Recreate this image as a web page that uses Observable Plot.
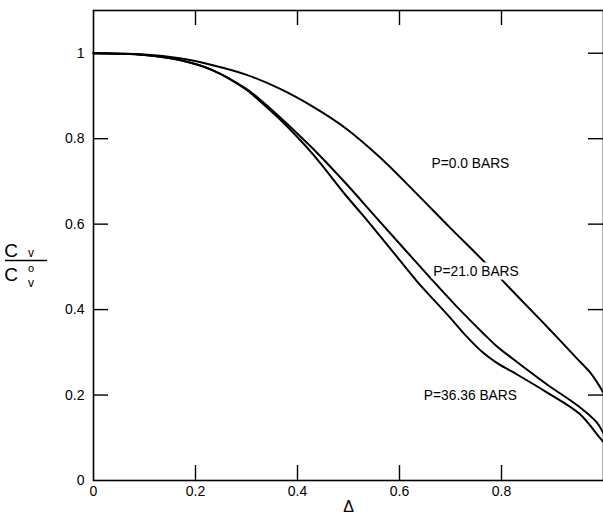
<!DOCTYPE html>
<html>
<head>
<meta charset="utf-8">
<script src="https://cdn.jsdelivr.net/npm/d3@7"></script>
<script src="https://cdn.jsdelivr.net/npm/@observablehq/plot@0.6"></script>
<style>
  html, body { margin: 0; padding: 0; background: #fff; }
  #chart { width: 603px; height: 516px; }
</style>
</head>
<body>
<div id="chart"></div>
<script>
// Δ values and Cv/Cv° values
const p0X  = [0, 0.1, 0.169, 0.234, 0.299, 0.365, 0.43, 0.495, 0.561, 0.633, 0.698, 0.767, 0.839, 0.894, 0.95, 0.973, 0.99, 1.0];
const p0Y  = [1.0, 0.997, 0.988, 0.972, 0.950, 0.917, 0.875, 0.824, 0.757, 0.672, 0.593, 0.511, 0.422, 0.354, 0.283, 0.254, 0.225, 0.205];

const p21X = [0, 0.1, 0.169, 0.234, 0.299, 0.332, 0.365, 0.43, 0.495, 0.554, 0.659, 0.71, 0.763, 0.79, 0.822, 0.888, 0.953, 0.986, 1.0];
const p21Y = [1.0, 0.996, 0.984, 0.960, 0.917, 0.886, 0.851, 0.777, 0.695, 0.616, 0.476, 0.410, 0.346, 0.315, 0.285, 0.226, 0.172, 0.137, 0.11];

const p36X = [0, 0.1, 0.169, 0.234, 0.299, 0.332, 0.365, 0.43, 0.495, 0.528, 0.594, 0.633, 0.70, 0.73, 0.763, 0.79, 0.822, 0.888, 0.953, 0.992, 1.0];
const p36Y = [1.0, 0.996, 0.984, 0.960, 0.915, 0.882, 0.846, 0.764, 0.667, 0.621, 0.525, 0.468, 0.380, 0.339, 0.300, 0.276, 0.254, 0.207, 0.156, 0.101, 0.09];

const seriesLabels = ["P=0.0 BARS", "P=21.0 BARS", "P=36.36 BARS"];
const labelX = [0.739, 0.750, 0.739];
const labelY = [0.742, 0.488, 0.199];

const xTicks = [0, 0.2, 0.4, 0.6, 0.8];
const yTicks = [0, 0.2, 0.4, 0.6, 0.8, 1];
const xTitle = "Δ";

const toRows = (xs, ys) => xs.map((x, i) => ({x, y: ys[i]}));
const curves = [toRows(p0X, p0Y), toRows(p21X, p21Y), toRows(p36X, p36Y)];
const labels = seriesLabels.map((t, i) => ({t, x: labelX[i], y: labelY[i]}));

const W = 603, H = 516;
const mL = 93, mR = 0, mT = 10, mB = 36;
const plotW = W - mL - mR, plotH = H - mT - mB;
const tick = 15;
const font = "'Liberation Sans', Arial, Helvetica, sans-serif";

const chart = Plot.plot({
  width: W,
  height: H,
  marginLeft: mL,
  marginRight: mR,
  marginTop: mT,
  marginBottom: mB,
  style: {fontFamily: font, fontSize: "14px", color: "#000", background: "#fff"},
  x: {domain: [0, 1.0]},
  y: {domain: [0, 1.1]},
  marks: [
    Plot.frame({stroke: "#000", strokeWidth: 1.6}),
    // inward ticks on all four sides
    Plot.tickX(xTicks.slice(1), {x: d => d, insetTop: plotH - tick, stroke: "#000", strokeWidth: 1.4}),
    Plot.tickX(xTicks.slice(1), {x: d => d, insetBottom: plotH - tick, stroke: "#000", strokeWidth: 1.4}),
    Plot.tickY(yTicks.slice(1), {y: d => d, insetRight: plotW - tick, stroke: "#000", strokeWidth: 1.4}),
    Plot.tickY(yTicks.slice(1), {y: d => d, insetLeft: plotW - tick, stroke: "#000", strokeWidth: 1.4}),
    Plot.axisX({ticks: xTicks, tickSize: 0, tickPadding: 6, tickFormat: d => String(d), label: null, fontSize: 14}),
    Plot.axisY({ticks: yTicks, tickSize: 0, tickPadding: 9, tickFormat: d => String(d), label: null, fontSize: 14}),
    ...curves.map(c => Plot.line(c, {x: "x", y: "y", stroke: "#000", strokeWidth: 2, curve: "catmull-rom"})),
    Plot.text(labels, {x: "x", y: "y", text: "t", fill: "#000", stroke: "#fff", strokeWidth: 7, fontSize: 13.8, textAnchor: "middle"}),
    Plot.text([xTitle], {frameAnchor: "bottom", dy: 31, fontSize: 16, fill: "#000"})
  ]
});

document.getElementById("chart").appendChild(chart);

// y-axis title: fraction Cv / Cv°
const svg = d3.select(chart);
const g = svg.append("g").attr("font-family", font).attr("fill", "#000");
g.append("text").attr("x", 11).attr("y", 257).attr("font-size", 19).text("C");
g.append("text").attr("x", 31).attr("y", 257).attr("font-size", 12).text("v");
g.append("line").attr("x1", 5).attr("x2", 47).attr("y1", 260.5).attr("y2", 260.5)
  .attr("stroke", "#000").attr("stroke-width", 1.5);
g.append("text").attr("x", 11).attr("y", 281).attr("font-size", 19).text("C");
g.append("text").attr("x", 31).attr("y", 272).attr("font-size", 11).text("o");
g.append("text").attr("x", 31).attr("y", 287).attr("font-size", 12).text("v");
</script>
</body>
</html>
